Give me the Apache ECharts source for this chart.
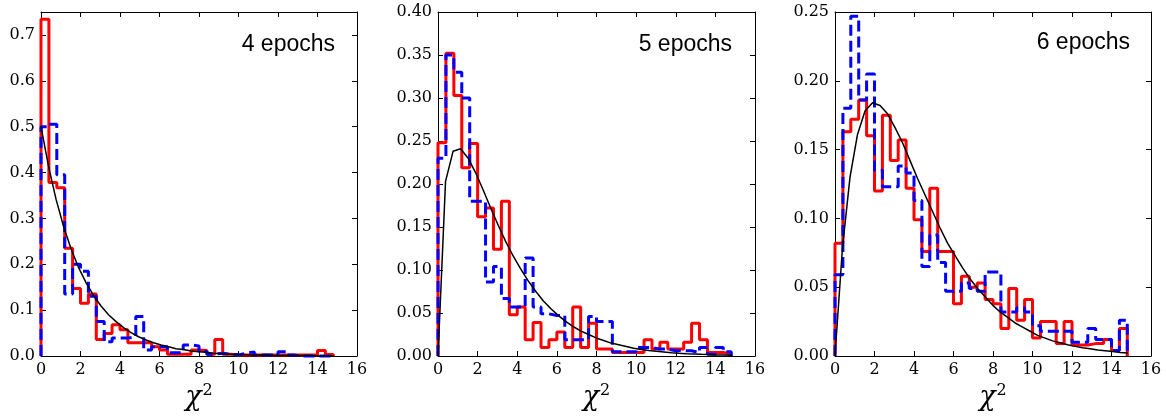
<!DOCTYPE html>
<html>
<head>
<meta charset="utf-8">
<script src="https://cdn.jsdelivr.net/npm/echarts@6/dist/echarts.min.js"></script>
<style>html,body{margin:0;padding:0;background:#fff;}#c{width:1166px;height:419px;}</style>
</head>
<body>
<div id="c"></div>
<script>
// Histogram bins (start, width) shared by all panels
const binStart = 0;
const binWidth = 0.4;

// Panel titles
const panelTitles = ['4 epochs', '5 epochs', '6 epochs'];

// Red (solid) histograms
const red4 = [0.734,0.378,0.367,0.235,0.147,0.115,0.135,0.036,0.049,0.068,0.057,0.029,0.029,0.029,0.02,0.013,0.004,0.004,0.004,0.013,0.012,0.004,0.036,0.004,0.002,0.002,0.002,0.002,0.002,0.002,0.002,0.002,0.002,0.002,0.002,0.012,0.003];
const red5 = [0.248,0.352,0.303,0.219,0.247,0.162,0.172,0.124,0.18,0.048,0.057,0.019,0.039,0.01,0.019,0.028,0.01,0.057,0.01,0.038,0.008,0.008,0.004,0.004,0.004,0.004,0.019,0.008,0.016,0.008,0.008,0.016,0.038,0.019,0.004,0.004,0.002];
const red6 = [0.082,0.163,0.172,0.186,0.16,0.12,0.175,0.142,0.157,0.122,0.099,0.076,0.122,0.076,0.076,0.038,0.058,0.05,0.053,0.041,0.038,0.02,0.049,0.026,0.041,0.013,0.025,0.025,0.009,0.025,0.008,0.008,0.009,0.009,0.012,0.004,0.02];

// Blue (dashed) histograms
const blue4 = [0.50,0.505,0.395,0.135,0.20,0.185,0.13,0.075,0.031,0.039,0.039,0.042,0.086,0.013,0.02,0.02,0.007,0.007,0.024,0.022,0.01,0.004,0.006,0.004,0.002,0.006,0.009,0.002,0.002,0.002,0.009,0.002,0,0,0,0,0];
const blue5 = [0.23,0.35,0.33,0.30,0.18,0.18,0.086,0.104,0.067,0.057,0.057,0.114,0.057,0.049,0.047,0.047,0.019,0.019,0.019,0.046,0.04,0.04,0.005,0.005,0.005,0.01,0.01,0.008,0.008,0.006,0.006,0.006,0.004,0.01,0.002,0.01,0.005];
const blue6 = [0.059,0.18,0.247,0.186,0.205,0.135,0.123,0.123,0.138,0.133,0.113,0.065,0.088,0.068,0.047,0.047,0.053,0.049,0.047,0.061,0.061,0.032,0.032,0.035,0.032,0.022,0.018,0.018,0.018,0.018,0.01,0.01,0.02,0.012,0.012,0.004,0.026];

// Black reference curves (sample points)
const curveX = [0,0.38,0.76,1.14,1.52,1.9,2.28,2.66,3.04,3.42,3.8,4.18,4.56,4.94,5.32,5.7,6.08,6.46,6.84,7.22,7.6,7.98,8.36,8.74,9.12,9.5,9.88,10.26,10.64,11.02,11.4,11.78,12.16,12.54,12.92,13.3,13.68,14.06,14.44,14.82];
const curve4 = [0.5,0.414,0.342,0.283,0.234,0.193,0.160,0.132,0.109,0.090,0.075,0.062,0.051,0.042,0.035,0.029,0.024,0.020,0.016,0.014,0.011,0.009,0.008,0.006,0.005,0.004,0.004,0.003,0.002,0.002,0.002,0.001,0.001,0.001,0.001,0.001,0.001,0,0,0];
const curve5 = [0,0.203,0.238,0.241,0.230,0.213,0.193,0.172,0.152,0.133,0.116,0.101,0.087,0.075,0.064,0.055,0.047,0.040,0.034,0.029,0.025,0.021,0.018,0.015,0.013,0.011,0.009,0.0075,0.0064,0.0054,0.0046,0.0038,0.0032,0.0027,0.0023,0.0019,0.0016,0.0013,0.0011,0.0009];
const curve6 = [0,0.079,0.130,0.161,0.178,0.184,0.182,0.176,0.166,0.155,0.142,0.129,0.117,0.105,0.093,0.082,0.073,0.064,0.056,0.049,0.043,0.037,0.032,0.028,0.024,0.021,0.018,0.015,0.013,0.011,0.0097,0.0082,0.007,0.006,0.0052,0.0043,0.0038,0.0032,0.0025,0.0022];

// Axis settings
const xMin = 0, xMax = 16, xStep = 2;
const yMax = [0.75, 0.40, 0.25];
const yStep = [0.1, 0.05, 0.05];
const yDecimals = [1, 2, 2];

const reds = [red4, red5, red6];
const blues = [blue4, blue5, blue6];
const curves = [curve4, curve5, curve6];

function stepPoints(vals) {
  const pts = [[binStart, 0]];
  vals.forEach((v, i) => {
    pts.push([binStart + i * binWidth, v]);
    pts.push([binStart + (i + 1) * binWidth, v]);
  });
  pts.push([binStart + vals.length * binWidth, 0]);
  return pts;
}

const gridPos = [
  {left: 41, top: 12, width: 316, height: 344},
  {left: 438, top: 12, width: 317, height: 344},
  {left: 835, top: 12, width: 316, height: 344}
];

const serif = 'DejaVu Serif';
const grids = [], xAxes = [], yAxes = [], series = [], titles = [];
const tickStyle = {show: true, inside: true, length: 5, lineStyle: {color: '#000', width: 1}};
const lineStyle = {show: true, onZero: false, lineStyle: {color: '#000', width: 1}};

for (let p = 0; p < 3; p++) {
  grids.push(Object.assign({containLabel: false, outerBoundsMode: 'none', show: false}, gridPos[p]));
  xAxes.push({
    type: 'value', gridIndex: p, min: xMin, max: xMax, interval: xStep, position: 'bottom',
    axisLine: lineStyle, axisTick: tickStyle, splitLine: {show: false},
    axisLabel: {color: '#000', fontFamily: serif, fontSize: 16, margin: 6},
    name: '{x|χ}{s|2}', nameLocation: 'middle', nameGap: 26,
    nameTextStyle: {rich: {
      x: {fontFamily: serif, fontStyle: 'italic', fontSize: 27, color: '#000'},
      s: {fontFamily: serif, fontSize: 16, color: '#000', padding: [0, 0, 14, 1]}
    }}
  });
  xAxes.push({
    type: 'value', gridIndex: p, min: xMin, max: xMax, interval: xStep, position: 'top',
    axisLine: lineStyle, axisTick: tickStyle, splitLine: {show: false}, axisLabel: {show: false}
  });
  const dec = yDecimals[p];
  yAxes.push({
    type: 'value', gridIndex: p, min: 0, max: yMax[p], interval: yStep[p], position: 'left',
    axisLine: lineStyle, axisTick: tickStyle, splitLine: {show: false},
    axisLabel: {color: '#000', fontFamily: serif, fontSize: 16, margin: 6,
      formatter: v => (v > yMax[p] - 1e-9 && p === 0) ? '' : v.toFixed(dec)}
  });
  yAxes.push({
    type: 'value', gridIndex: p, min: 0, max: yMax[p], interval: yStep[p], position: 'right',
    axisLine: lineStyle, axisTick: tickStyle, splitLine: {show: false}, axisLabel: {show: false}
  });
  const xi = p * 2, yi = p * 2;
  series.push({
    type: 'line', xAxisIndex: xi, yAxisIndex: yi, data: stepPoints(reds[p]),
    symbol: 'none', lineStyle: {color: '#ff0000', width: 3}, z: 2, animation: false, clip: false
  });
  series.push({
    type: 'line', xAxisIndex: xi, yAxisIndex: yi, data: stepPoints(blues[p]),
    symbol: 'none', lineStyle: {color: '#0000ff', width: 3, type: [11, 5]}, z: 3, animation: false, clip: false
  });
  series.push({
    type: 'line', xAxisIndex: xi, yAxisIndex: yi, data: curveX.map((x, i) => [x, curves[p][i]]),
    symbol: 'none', lineStyle: {color: '#000', width: 1.5}, z: 4, animation: false
  });
}

const titleRight = [831, 434, 36];
const titleTop = [33, 33, 31];
for (let p = 0; p < 3; p++) {
  titles.push({text: panelTitles[p], right: titleRight[p], top: titleTop[p], padding: 0,
    textStyle: {fontFamily: 'Liberation Sans', fontSize: 23, fontWeight: 'normal', color: '#000'}});
}

const chart = echarts.init(document.getElementById('c'), null, {renderer: 'canvas'});
chart.setOption({
  backgroundColor: '#fff', animation: false,
  title: titles, grid: grids, xAxis: xAxes, yAxis: yAxes, series: series
});
</script>
</body>
</html>
